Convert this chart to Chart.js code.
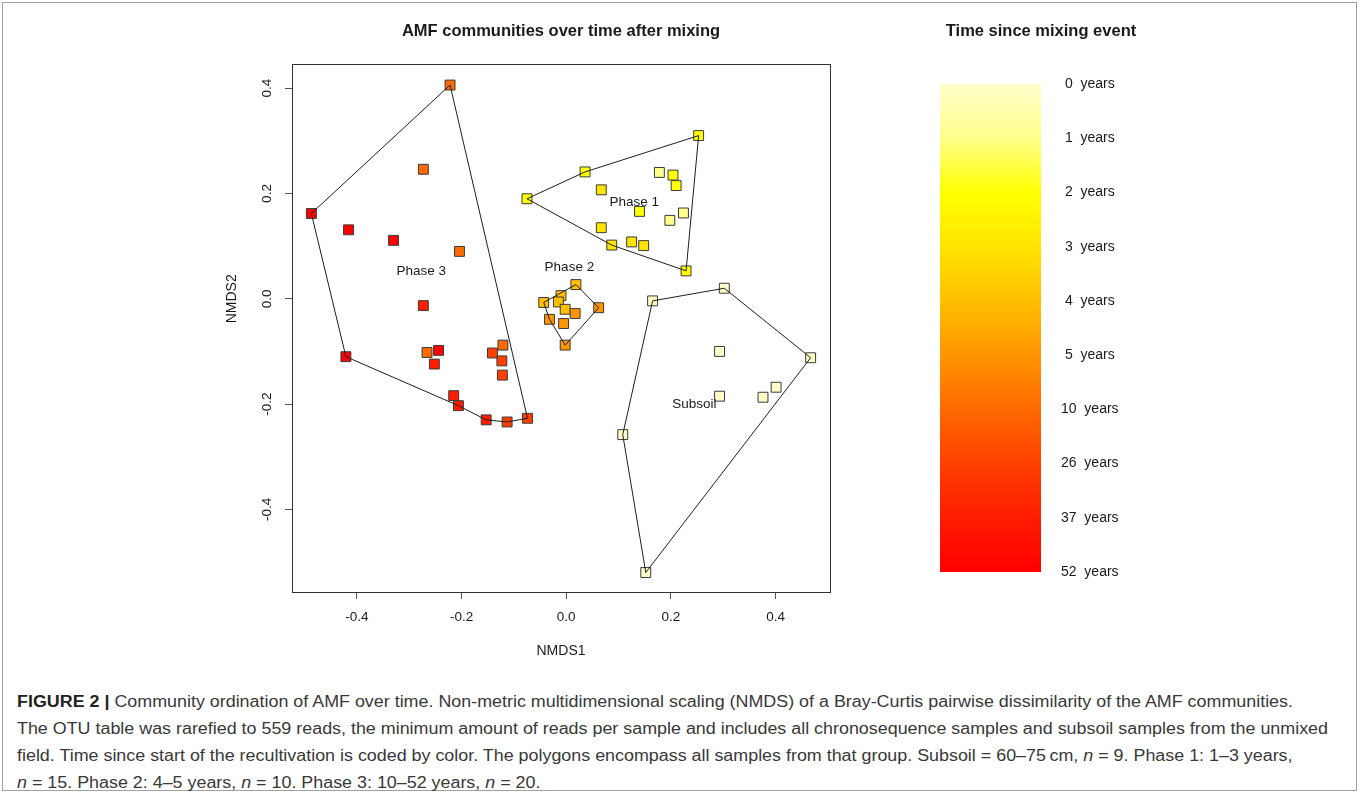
<!DOCTYPE html>
<html>
<head>
<meta charset="utf-8">
<script src="https://cdn.jsdelivr.net/npm/chart.js@4/dist/chart.umd.min.js"></script>
<style>
  body { margin: 0; background: #fff; font-family: Arial, "Liberation Sans", sans-serif; }
  #page { position: relative; width: 1360px; height: 795px; overflow: hidden; }
  #frame { position: absolute; left: 2px; top: 2px; width: 1355px; height: 789px; border: 1px solid #a0a0a0; box-sizing: border-box; }
  #main { position: absolute; left: 0; top: 0; }
  #scale { position: absolute; left: 900px; top: 0; }
  #caption { position: absolute; left: 17px; top: 688px; font-size: 16px; line-height: 27px; color: #383838; transform-origin: 0 0; white-space: nowrap; }
  #caption b { color: #222; }
</style>
</head>
<body>
<div id="page">
  <div id="frame"></div>
  <canvas id="main" width="880" height="680"></canvas>
  <canvas id="scale" width="241" height="680"></canvas>
  <div id="caption">
    <div><b>FIGURE 2 |</b> Community ordination of AMF over time. Non-metric multidimensional scaling (NMDS) of a Bray-Curtis pairwise dissimilarity of the AMF communities.</div>
    <div id="capline2">The OTU table was rarefied to 559 reads, the minimum amount of reads per sample and includes all chronosequence samples and subsoil samples from the unmixed</div>
    <div>field. Time since start of the recultivation is coded by color. The polygons encompass all samples from that group. Subsoil = 60–75&#8201;cm, <i>n</i> = 9. Phase 1: 1–3 years,</div>
    <div><i>n</i> = 15. Phase 2: 4–5 years, <i>n</i> = 10. Phase 3: 10–52 years, <i>n</i> = 20.</div>
  </div>
</div>
<script>
// colour key: years since mixing and their colours
const yearLabels = [0, 1, 2, 3, 4, 5, 10, 26, 37, 52];
const yearColors = ['#FFFFCC', '#FFFF8C', '#FFFF00', '#FFE500', '#FFBF00', '#FF9500', '#FF6A00', '#FF4000', '#FF1C00', '#FF0000'];

// NMDS scores per group (x = NMDS1, y = NMDS2, t = years)
const p1x = [0.253, 0.036, -0.075, 0.178, 0.204, 0.210, 0.067, 0.140, 0.224, 0.198, 0.067, 0.087, 0.125, 0.148, 0.229];
const p1y = [0.310, 0.241, 0.190, 0.240, 0.235, 0.215, 0.207, 0.166, 0.163, 0.149, 0.135, 0.102, 0.108, 0.101, 0.053];
const p1t = [2, 2, 2, 1, 2, 2, 3, 2, 1, 1, 3, 3, 3, 3, 2];
const p1hull = [2, 1, 0, 14, 11];

const p2x = [0.0185, -0.043, -0.010, -0.015, -0.002, 0.062, 0.017, -0.032, -0.005, -0.002];
const p2y = [0.027, -0.007, 0.006, -0.006, -0.020, -0.017, -0.028, -0.039, -0.047, -0.088];
const p2t = [4, 4, 4, 4, 4, 5, 5, 5, 5, 5];
const p2hull = [1, 0, 5, 9, 7];

const p3x = [-0.222, -0.273, -0.487, -0.416, -0.330, -0.204, -0.273, -0.421, -0.266, -0.244, -0.252, -0.121, -0.141, -0.123, -0.122, -0.215, -0.206, -0.153, -0.113, -0.074];
const p3y = [0.406, 0.246, 0.162, 0.131, 0.111, 0.090, -0.013, -0.110, -0.102, -0.098, -0.124, -0.088, -0.103, -0.118, -0.145, -0.184, -0.203, -0.230, -0.234, -0.227];
const p3t = [10, 10, 52, 52, 52, 10, 37, 52, 10, 52, 37, 10, 26, 26, 26, 37, 37, 37, 26, 26];
const p3hull = [0, 2, 7, 16, 17, 18, 19];

const ssx = [0.165, 0.302, 0.467, 0.293, 0.401, 0.376, 0.293, 0.108, 0.152];
const ssy = [-0.004, 0.020, -0.112, -0.100, -0.168, -0.187, -0.185, -0.258, -0.520];
const sst = [0, 0, 0, 0, 0, 0, 0, 0, 0];
const sshull = [0, 1, 2, 8, 7];

const groupNames = ['Phase 1', 'Phase 2', 'Phase 3', 'Subsoil'];
const groupLabelX = [0.130, 0.006, -0.277, 0.245];
const groupLabelY = [0.183, 0.059, 0.053, -0.200];

const xTicks = [-0.4, -0.2, 0.0, 0.2, 0.4];
const yTicks = [-0.4, -0.2, 0.0, 0.2, 0.4];

const FONT = 'Arial, "Liberation Sans", sans-serif';
const colorOf = (t) => yearColors[yearLabels.indexOf(t)];

function pointSet(xs, ys, ts) {
  return {
    data: xs.map((x, i) => ({ x: x, y: ys[i] })),
    pointStyle: 'rect',
    pointRadius: 7,
    pointBackgroundColor: ts.map(colorOf),
    pointBorderColor: '#3a3a3a',
    pointBorderWidth: 1,
    showLine: false,
    order: 2
  };
}

function hullSet(xs, ys, idx) {
  const pts = idx.concat([idx[0]]).map(i => ({ x: xs[i], y: ys[i] }));
  return {
    data: pts,
    showLine: true,
    pointRadius: 0,
    borderColor: '#1e1e1e',
    borderWidth: 1,
    fill: false,
    tension: 0,
    order: 1
  };
}

const plotText = {
  id: 'plotText',
  afterDraw(chart) {
    const { ctx, chartArea: a, scales: { x, y } } = chart;
    ctx.save();
    // box round the plot
    ctx.strokeStyle = '#333';
    ctx.lineWidth = 1;
    ctx.strokeRect(Math.round(a.left) + 0.5, Math.round(a.top) + 0.5, Math.round(a.width), Math.round(a.height));

    ctx.fillStyle = '#1a1a1a';
    ctx.textAlign = 'center';
    ctx.textBaseline = 'middle';
    ctx.font = 'bold 16.5px ' + FONT;
    ctx.fillText('AMF communities over time after mixing', (a.left + a.right) / 2, 31);

    ctx.font = '14px ' + FONT;
    ctx.fillText('NMDS1', (a.left + a.right) / 2, 651);

    // rotated y tick labels, R style
    ctx.font = '13.5px ' + FONT;
    y.ticks.forEach(t => {
      ctx.save();
      ctx.translate(267, y.getPixelForValue(t.value));
      ctx.rotate(-Math.PI / 2);
      ctx.fillText(t.value.toFixed(1), 0, 0);
      ctx.restore();
    });
    ctx.font = '14px ' + FONT;
    ctx.save();
    ctx.translate(232, y.getPixelForValue(0));
    ctx.rotate(-Math.PI / 2);
    ctx.fillText('NMDS2', 0, 0);
    ctx.restore();

    ctx.font = '13.5px ' + FONT;
    groupNames.forEach((n, i) => {
      ctx.fillText(n, x.getPixelForValue(groupLabelX[i]), y.getPixelForValue(groupLabelY[i]));
    });
    ctx.restore();
  }
};

new Chart(document.getElementById('main'), {
  type: 'scatter',
  data: {
    datasets: [
      pointSet(p1x, p1y, p1t), pointSet(p2x, p2y, p2t), pointSet(p3x, p3y, p3t), pointSet(ssx, ssy, sst),
      hullSet(p1x, p1y, p1hull), hullSet(p2x, p2y, p2hull), hullSet(p3x, p3y, p3hull), hullSet(ssx, ssy, sshull)
    ]
  },
  options: {
    responsive: false,
    animation: false,
    events: [],
    layout: { padding: { top: 64, right: 50, left: 0, bottom: 0 } },
    plugins: { legend: { display: false }, tooltip: { enabled: false } },
    scales: {
      x: {
        type: 'linear',
        min: -0.524, max: 0.504,
        afterBuildTicks: (s) => { s.ticks = xTicks.map(v => ({ value: v })); },
        afterFit: (s) => { s.height = 88; },
        border: { display: false },
        grid: { drawOnChartArea: false, drawTicks: true, tickLength: 7, color: '#555' },
        ticks: { font: { size: 13.5, family: FONT }, color: '#1a1a1a', padding: 10, maxRotation: 0, callback: (v) => v.toFixed(1) }
      },
      y: {
        type: 'linear',
        min: -0.557, max: 0.446,
        afterBuildTicks: (s) => { s.ticks = yTicks.map(v => ({ value: v })); },
        afterFit: (s) => { s.width = 292; },
        border: { display: false },
        grid: { drawOnChartArea: false, drawTicks: true, tickLength: 7, color: '#555' },
        ticks: { display: false }
      }
    }
  },
  plugins: [plotText]
});

// colour key as a single floating bar with a gradient fill
const keyTitle = {
  id: 'keyTitle',
  afterDraw(chart) {
    const { ctx, chartArea: a } = chart;
    ctx.save();
    ctx.fillStyle = '#1a1a1a';
    ctx.font = 'bold 16.5px ' + FONT;
    ctx.textAlign = 'center';
    ctx.textBaseline = 'middle';
    ctx.fillText('Time since mixing event', a.right, 31);
    ctx.restore();
  }
};

new Chart(document.getElementById('scale'), {
  type: 'bar',
  data: {
    labels: ['key'],
    datasets: [{
      data: [[0, yearLabels.length - 1]],
      borderWidth: 0,
      barPercentage: 1,
      categoryPercentage: 1,
      backgroundColor: (c) => {
        const a = c.chart.chartArea;
        if (!a) return yearColors[0];
        const g = c.chart.ctx.createLinearGradient(0, a.top, 0, a.bottom);
        yearColors.forEach((col, i) => g.addColorStop(i / (yearColors.length - 1), col));
        return g;
      }
    }]
  },
  options: {
    responsive: false,
    animation: false,
    events: [],
    layout: { padding: { top: 84, bottom: 108, left: 40, right: 0 } },
    plugins: { legend: { display: false }, tooltip: { enabled: false } },
    scales: {
      x: { display: false },
      y: {
        position: 'right',
        reverse: true,
        min: 0, max: yearLabels.length - 1,
        afterBuildTicks: (s) => { s.ticks = yearLabels.map((_, i) => ({ value: i })); },
        afterFit: (s) => { s.width = 100; },
        border: { display: false },
        grid: { display: false, drawTicks: false },
        ticks: {
          crossAlign: 'center',
          padding: 20,
          font: { size: 14, family: FONT },
          color: '#1a1a1a',
          callback: (v) => yearLabels[v] + '  years'
        }
      }
    }
  },
  plugins: [keyTitle]
});

// squeeze caption to the narrow journal face width
const cap = document.getElementById('caption');
const line2 = document.getElementById('capline2');
const k = 1311 / line2.scrollWidth;
cap.style.transform = 'scaleX(' + k.toFixed(4) + ')';
</script>
</body>
</html>
